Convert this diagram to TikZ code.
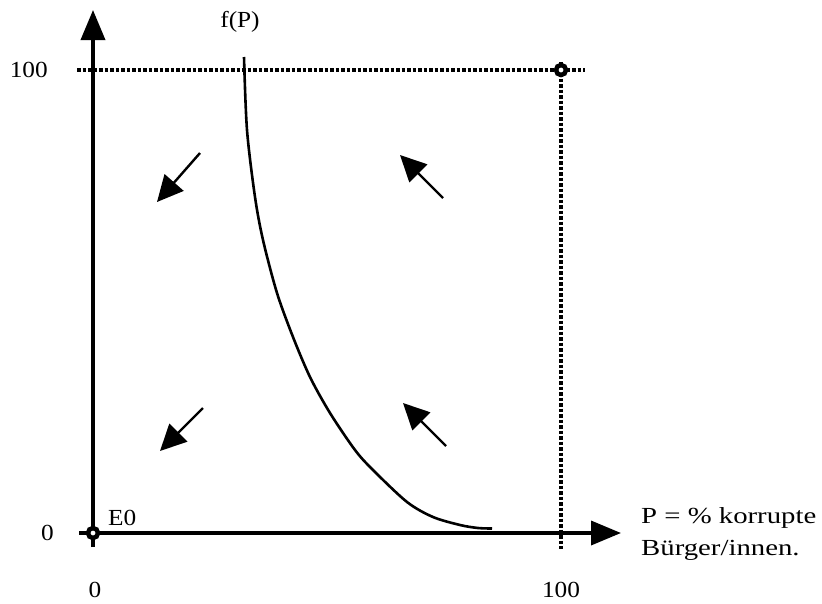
\documentclass[tikz,border=0pt]{standalone}
\usepackage{fontspec}
\setmainfont[FakeStretch=1.1]{Liberation Serif}
\newfontfamily\widefont[FakeStretch=1.25]{Liberation Serif}
\usetikzlibrary{arrows.meta}
\begin{document}
\begin{tikzpicture}[x=1pt,y=-1pt,
  axis/.style={line width=3.6pt,-{Triangle[length=30pt,width=24pt]}},
  dotline/.style={line width=3.4pt,dash pattern=on 3.5pt off 2pt},
  flow/.style={line width=2.4pt,-{Triangle[length=26pt,width=25pt]}},
  curve/.style={line width=2.6pt},
  lbl/.style={font=\fontsize{23}{27}\selectfont,inner sep=0pt},
  pt/.style={circle,draw,line width=4.5pt,minimum size=10pt,inner sep=0pt,fill=white}]
\useasboundingbox (0,0) rectangle (822,603);
% coordinates
\coordinate (ybot) at (93,547);
\coordinate (ytop) at (93,10);
\coordinate (xleft) at (79,533);
\coordinate (xright) at (621,533);
\coordinate (hl) at (77,70);
\coordinate (hr) at (585,70);
\coordinate (vb) at (561,549);
\coordinate (vt) at (561,62);
% dotted lines
\draw[dotline] (hl) -- (hr);
\draw[dotline] (vt) -- (vb);
% axes
\draw[axis] (ybot) -- (ytop);
\draw[axis] (xleft) -- (xright);
% curve
\draw[curve] plot[smooth,tension=0.5] coordinates {(244,57) (247,130) (255,197) (263,240) (277,293) (293,337) (310,377) (330,413) (355,450) (373,470) (407,502) (433,517) (460,525) (478,528) (492,528.5)};
% points
\node[pt] (E0pt) at (93,533) {};
\node[pt] (Ppt) at (561,70) {};
% flow arrows
\coordinate (a1s) at (200,153); \coordinate (a1e) at (157,202);
\coordinate (a2s) at (443,198); \coordinate (a2e) at (400,155);
\coordinate (a3s) at (203,408); \coordinate (a3e) at (160,451);
\coordinate (a4s) at (446,446); \coordinate (a4e) at (403,403);
\draw[flow] (a1s) -- (a1e);
\draw[flow] (a2s) -- (a2e);
\draw[flow] (a3s) -- (a3e);
\draw[flow] (a4s) -- (a4e);
% labels
\node[lbl] (fP) at (240,22) {f(P)};
\node[lbl,anchor=east] (y100) at (48,70) {100};
\node[lbl,anchor=east] (y0) at (54,533) {0};
\node[lbl,anchor=west] (E0) at (108,518) {E0};
\node[lbl] (x0) at (95,590) {0};
\node[lbl] (x100) at (561,590) {100};
\node[lbl,anchor=west] (P1) at (641,518) {\widefont P = \% korrupte};
\node[lbl,anchor=west] (P2) at (641,550) {\widefont Bürger/innen.};
\end{tikzpicture}
\end{document}
